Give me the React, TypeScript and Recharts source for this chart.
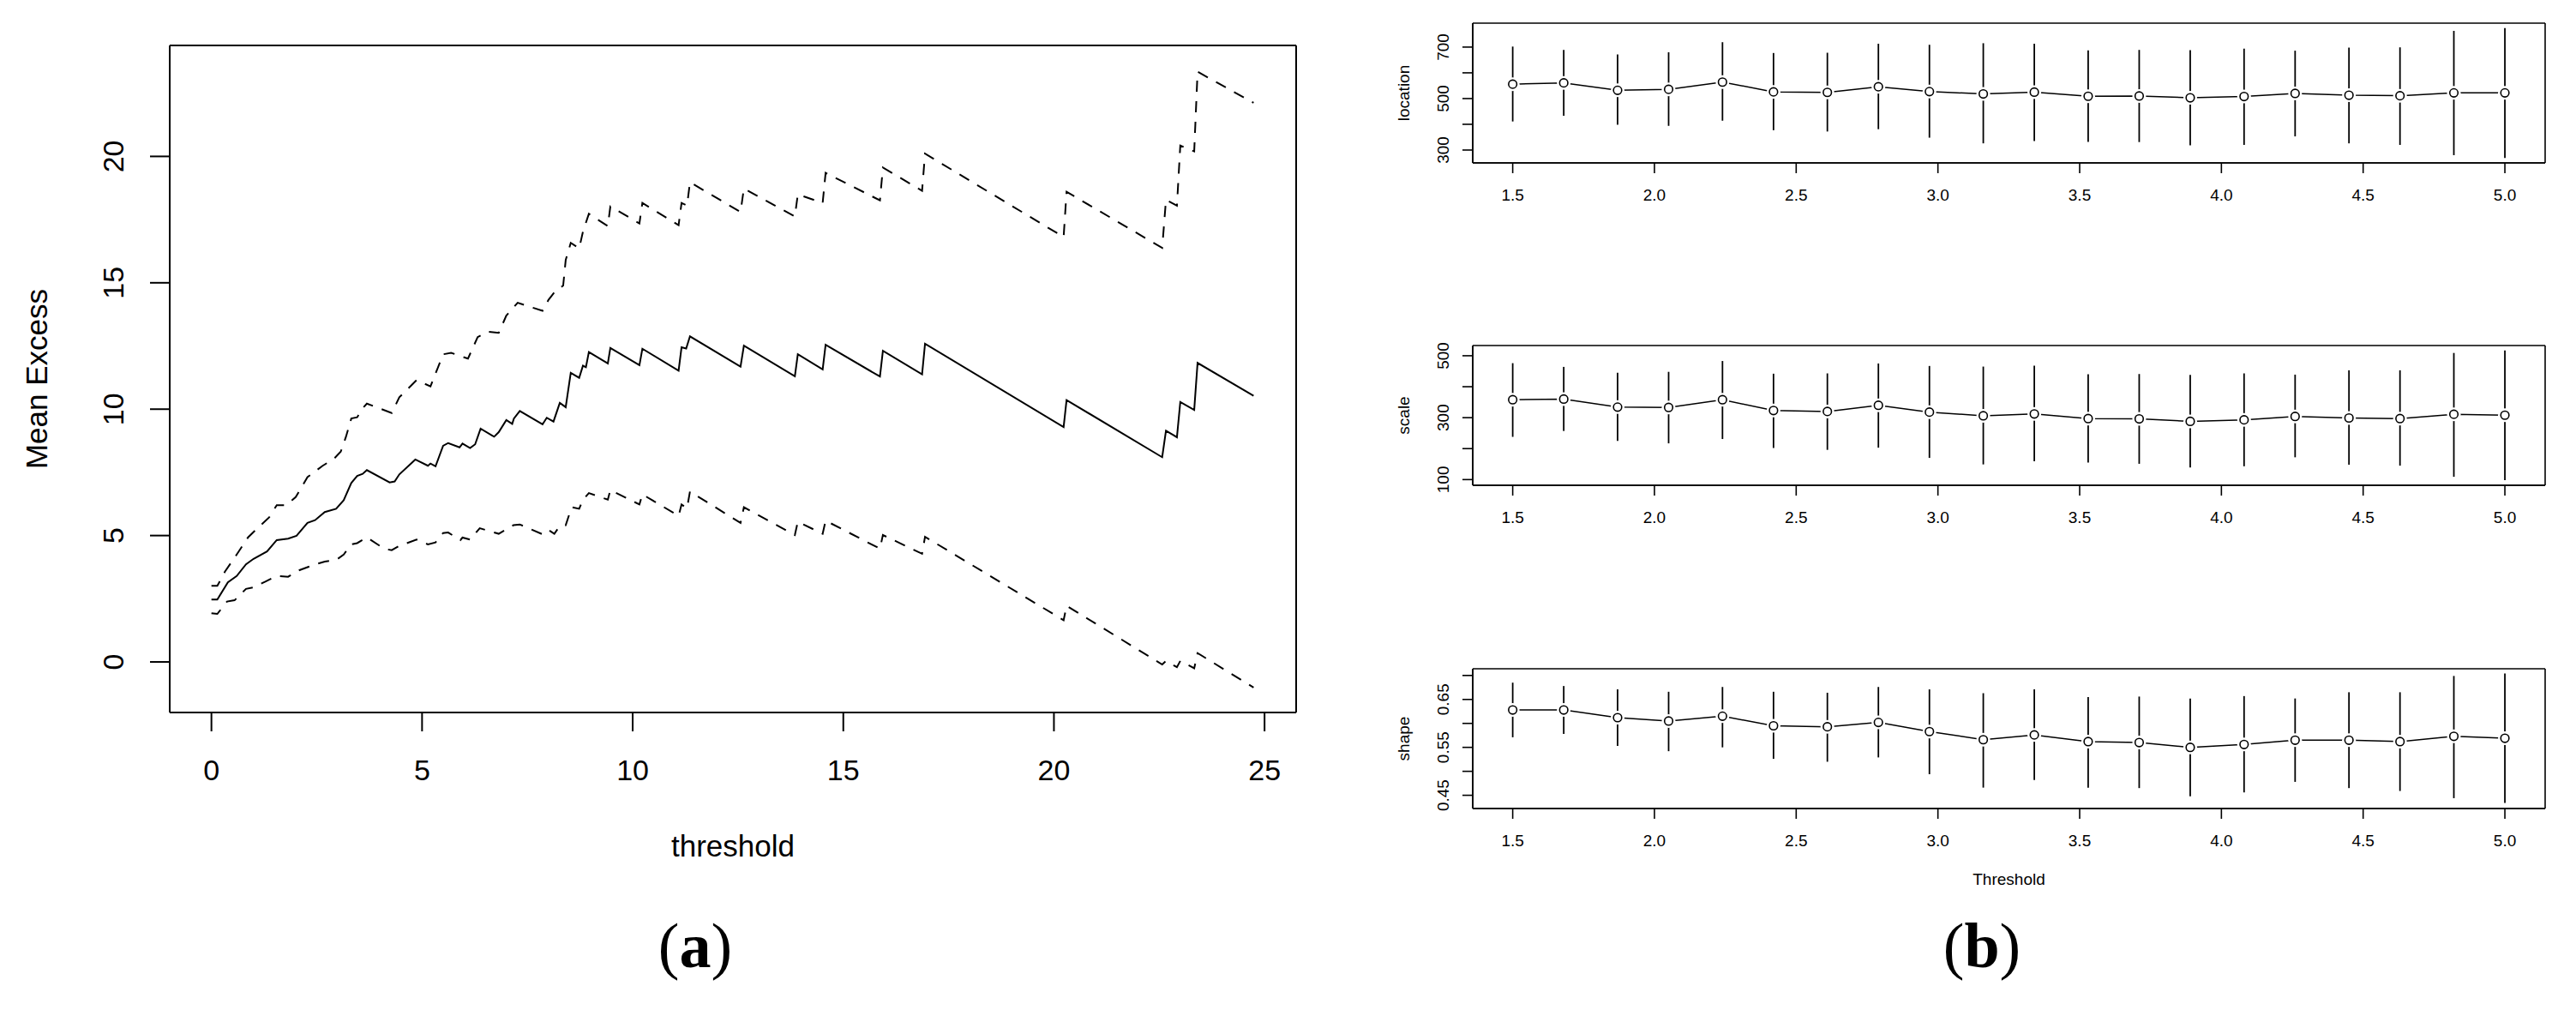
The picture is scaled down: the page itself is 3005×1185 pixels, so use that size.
import React from 'react';
import { LineChart, Line, XAxis, YAxis, ErrorBar, Label, CartesianGrid } from 'recharts';

const FONT = '"Liberation Sans", Arial, Helvetica, sans-serif';
const SERIF = '"Liberation Serif", "Times New Roman", serif';

// ---- (a) mean excess plot, vertices ----
const MEAN_X = [0.0, 0.14, 0.39, 0.6, 0.82, 1.0, 1.32, 1.55, 1.82, 2.02, 2.28, 2.46, 2.69, 2.96, 3.14, 3.32, 3.46, 3.59, 3.69, 4.23, 4.35, 4.46, 4.84, 5.14, 5.2, 5.32, 5.5, 5.62, 5.89, 5.96, 6.14, 6.26, 6.39, 6.71, 6.82, 7.0, 7.14, 7.18, 7.32, 7.86, 7.96, 8.12, 8.27, 8.41, 8.53, 8.73, 8.82, 8.89, 8.96, 9.41, 9.47, 10.16, 10.23, 11.09, 11.16, 11.27, 11.36, 12.56, 12.64, 13.85, 13.92, 14.51, 14.58, 15.87, 15.94, 16.87, 16.94, 20.23, 20.3, 22.57, 22.66, 22.92, 23.0, 23.33, 23.41, 24.74];
const MEAN_Y = [2.47, 2.47, 3.15, 3.4, 3.86, 4.08, 4.37, 4.82, 4.88, 4.99, 5.5, 5.61, 5.93, 6.06, 6.4, 7.08, 7.36, 7.44, 7.59, 7.1, 7.14, 7.42, 8.01, 7.76, 7.85, 7.74, 8.55, 8.66, 8.49, 8.64, 8.46, 8.61, 9.23, 8.91, 9.09, 9.57, 9.42, 9.63, 9.93, 9.4, 9.66, 9.51, 10.25, 10.08, 11.44, 11.24, 11.72, 11.66, 12.26, 11.81, 12.42, 11.74, 12.39, 11.52, 12.45, 12.4, 12.88, 11.68, 12.51, 11.3, 12.17, 11.57, 12.55, 11.29, 12.31, 11.38, 12.59, 9.29, 10.36, 8.1, 9.15, 8.89, 10.28, 9.97, 11.83, 10.53];

const UPPER_X = [0.0, 0.14, 0.32, 0.6, 0.87, 1.05, 1.37, 1.55, 1.78, 2.0, 2.28, 2.64, 2.91, 3.07, 3.19, 3.32, 3.46, 3.59, 3.69, 4.28, 4.46, 4.87, 5.2, 5.5, 5.69, 6.09, 6.32, 6.55, 6.82, 7.0, 7.27, 7.86, 8.0, 8.16, 8.35, 8.41, 8.53, 8.73, 8.82, 8.96, 9.41, 9.47, 10.16, 10.23, 11.09, 11.16, 11.29, 11.36, 12.56, 12.64, 13.85, 13.92, 14.51, 14.58, 15.87, 15.94, 16.87, 16.94, 20.23, 20.3, 22.57, 22.66, 22.92, 23.0, 23.33, 23.41, 24.74];
const UPPER_Y = [3.01, 3.01, 3.57, 4.25, 4.93, 5.22, 5.72, 6.2, 6.2, 6.52, 7.31, 7.76, 8.04, 8.32, 8.89, 9.63, 9.68, 10.04, 10.22, 9.85, 10.47, 11.15, 10.9, 12.17, 12.23, 12.0, 12.85, 13.07, 13.02, 13.7, 14.21, 13.89, 14.32, 14.66, 14.89, 15.9, 16.58, 16.36, 17.03, 17.73, 17.24, 18.02, 17.35, 18.16, 17.28, 18.16, 18.05, 18.98, 17.8, 18.73, 17.62, 18.5, 18.16, 19.35, 18.26, 19.56, 18.64, 20.11, 16.81, 18.6, 16.38, 18.28, 18.05, 20.43, 20.2, 23.35, 22.12];

const LOWER_X = [0.0, 0.14, 0.37, 0.55, 0.82, 1.0, 1.28, 1.55, 1.82, 2.09, 2.46, 2.69, 2.96, 3.14, 3.32, 3.46, 3.69, 4.1, 4.28, 4.46, 4.87, 5.14, 5.32, 5.5, 5.62, 5.91, 5.96, 6.14, 6.37, 6.82, 7.17, 7.32, 7.86, 8.0, 8.14, 8.27, 8.41, 8.55, 8.73, 8.82, 8.96, 9.41, 9.47, 10.16, 10.23, 11.09, 11.16, 11.29, 11.36, 12.56, 12.64, 13.85, 13.92, 14.51, 14.58, 15.87, 15.94, 16.87, 16.94, 20.23, 20.3, 22.57, 22.66, 22.92, 23.0, 23.33, 23.41, 24.74];
const LOWER_Y = [1.93, 1.9, 2.39, 2.44, 2.89, 2.95, 3.18, 3.4, 3.37, 3.63, 3.86, 3.97, 4.03, 4.25, 4.65, 4.7, 4.93, 4.48, 4.42, 4.59, 4.84, 4.65, 4.73, 5.1, 5.12, 4.82, 4.92, 4.84, 5.29, 5.07, 5.41, 5.44, 5.05, 5.22, 5.07, 5.38, 5.41, 6.12, 6.06, 6.42, 6.68, 6.42, 6.8, 6.23, 6.63, 5.78, 6.23, 6.08, 6.74, 5.5, 6.12, 5.02, 5.55, 5.07, 5.59, 4.48, 5.02, 4.28, 4.95, 1.65, 2.22, -0.1, 0.04, -0.21, 0.04, -0.25, 0.35, -1.01];

const A_X_TICKS = [0, 5, 10, 15, 20, 25];
const A_Y_TICKS = [0, 5, 10, 15, 20];

// ---- (b) parameter stability plot ----
const THRESHOLDS = [1.5, 1.68, 1.87, 2.05, 2.24, 2.42, 2.61, 2.79, 2.97, 3.16, 3.34, 3.53, 3.71, 3.89, 4.08, 4.26, 4.45, 4.63, 4.82, 5.0];

const LOCATION = [556, 561, 532, 536, 564, 526, 524, 546, 527, 518, 525, 509, 510, 503, 508, 520, 513, 511, 522, 522];
const LOCATION_LO = [411, 433, 398, 394, 414, 377, 372, 381, 348, 326, 335, 332, 331, 318, 320, 353, 326, 320, 280, 269];
const LOCATION_HI = [702, 689, 671, 680, 719, 677, 678, 713, 709, 715, 713, 687, 689, 688, 694, 686, 698, 699, 763, 774];

const SCALE = [358, 360, 334, 333, 358, 323, 320, 340, 318, 306, 312, 297, 296, 288, 293, 304, 299, 297, 311, 308];
const SCALE_LO = [238, 257, 225, 217, 231, 202, 196, 203, 170, 149, 159, 155, 151, 139, 143, 172, 148, 145, 109, 98];
const SCALE_HI = [476, 464, 445, 448, 483, 442, 443, 475, 467, 465, 468, 440, 441, 438, 443, 439, 453, 453, 509, 517];

const SHAPE = [0.628, 0.628, 0.612, 0.605, 0.615, 0.595, 0.593, 0.602, 0.583, 0.566, 0.576, 0.562, 0.56, 0.55, 0.556, 0.565, 0.565, 0.562, 0.573, 0.569];
const SHAPE_LO = [0.571, 0.578, 0.553, 0.542, 0.55, 0.526, 0.52, 0.529, 0.494, 0.466, 0.482, 0.466, 0.465, 0.448, 0.456, 0.478, 0.465, 0.459, 0.444, 0.434];
const SHAPE_HI = [0.685, 0.678, 0.671, 0.666, 0.676, 0.666, 0.664, 0.676, 0.671, 0.663, 0.671, 0.655, 0.656, 0.652, 0.657, 0.652, 0.665, 0.665, 0.699, 0.704];

const B_X_TICKS = [1.5, 2.0, 2.5, 3.0, 3.5, 4.0, 4.5, 5.0];
const LOC_TICKS = [300, 400, 500, 600, 700];
const LOC_LABELS = [300, 500, 700];
const SCALE_TICKS = [100, 200, 300, 400, 500];
const SCALE_LABELS = [100, 300, 500];
const SHAPE_TICKS = [0.45, 0.5, 0.55, 0.6, 0.65, 0.7];
const SHAPE_LABELS = [0.45, 0.55, 0.65];

const toPoints = (xs: number[], ys: number[]) => xs.map((x, i) => ({ x, y: ys[i] }));

// grid lines only on the plot edges -> the R style box
const edgesY = ({ offset }: any) => [offset.top, offset.top + offset.height];
const edgesX = ({ offset }: any) => [offset.left, offset.left + offset.width];

const XTick = ({ x, y, payload, size, gap, fmt }: any) => (
  <text x={x} y={y + gap} dy={size * 0.355} textAnchor="middle" fontSize={size} fontFamily={FONT} fill="#000">
    {fmt(payload.value)}
  </text>
);

// R puts y labels parallel to the axis
const YTick = ({ x, y, payload, size, gap, fmt, show }: any) => {
  if (show && !show.includes(payload.value)) return <g />;
  const cx = x - gap;
  return (
    <text x={cx} y={y} dy={size * 0.355} transform={`rotate(-90 ${cx} ${y})`} textAnchor="middle" fontSize={size} fontFamily={FONT} fill="#000">
      {fmt(payload.value)}
    </text>
  );
};

const YTitle = ({ viewBox, text, x, size }: any) => {
  const cy = viewBox.y + viewBox.height / 2;
  return (
    <text x={x} y={cy} dy={size * 0.355} transform={`rotate(-90 ${x} ${cy})`} textAnchor="middle" fontSize={size} fontFamily={FONT} fill="#000">
      {text}
    </text>
  );
};

function MeanExcessPanel() {
  const line = { stroke: '#000', strokeWidth: 2 };
  return (
    <div style={{ position: 'absolute', left: 0, top: 0 }}>
      <LineChart width={1560} height={1011} margin={{ top: 53, right: 48, bottom: 0, left: 0 }}>
        <CartesianGrid stroke="#000" strokeWidth={2} horizontalCoordinatesGenerator={edgesY} verticalCoordinatesGenerator={edgesX} />
        <XAxis
          dataKey="x"
          type="number"
          domain={[-0.99, 25.75]}
          ticks={A_X_TICKS}
          interval={0}
          allowDataOverflow
          height={180}
          tickSize={22}
          tickMargin={0}
          axisLine={line}
          tickLine={line}
          tick={(p: any) => <XTick {...p} size={34} gap={45} fmt={(v: number) => String(v)} />}
        >
          <Label value="threshold" position="insideTop" offset={143} fontSize={35} fontFamily={FONT} fill="#000" />
        </XAxis>
        <YAxis
          type="number"
          domain={[-2.0, 24.39]}
          ticks={A_Y_TICKS}
          interval={0}
          allowDataOverflow
          width={198}
          tickSize={23}
          tickMargin={0}
          axisLine={line}
          tickLine={line}
          tick={(p: any) => <YTick {...p} size={34} gap={43} fmt={(v: number) => String(v)} />}
        >
          <Label content={(p: any) => <YTitle {...p} text="Mean Excess" x={43} size={35} />} />
        </YAxis>
        <Line data={toPoints(UPPER_X, UPPER_Y)} dataKey="y" type="linear" stroke="#000" strokeWidth={2} strokeDasharray="13 11" dot={false} activeDot={false} isAnimationActive={false} />
        <Line data={toPoints(MEAN_X, MEAN_Y)} dataKey="y" type="linear" stroke="#000" strokeWidth={2} dot={false} activeDot={false} isAnimationActive={false} />
        <Line data={toPoints(LOWER_X, LOWER_Y)} dataKey="y" type="linear" stroke="#000" strokeWidth={2} strokeDasharray="13 11" dot={false} activeDot={false} isAnimationActive={false} />
      </LineChart>
    </div>
  );
}

interface ParamProps {
  top: number;
  xHeight: number;
  values: number[];
  lower: number[];
  upper: number[];
  domain: [number, number];
  ticks: number[];
  labels: number[];
  digits: number;
  title: string;
  xTitle?: string;
}

function ParamPanel({ top, xHeight, values, lower, upper, domain, ticks, labels, digits, title, xTitle }: ParamProps) {
  const data = THRESHOLDS.map((t, i) => ({ t, v: values[i], err: [values[i] - lower[i], upper[i] - values[i]] }));
  const line = { stroke: '#000', strokeWidth: 1.6 };
  return (
    <div style={{ position: 'absolute', left: 1580, top }}>
      <LineChart width={1425} height={27 + 163 + xHeight} data={data} margin={{ top: 27, right: 36, bottom: 0, left: 0 }}>
        <CartesianGrid stroke="#000" strokeWidth={1.6} horizontalCoordinatesGenerator={edgesY} verticalCoordinatesGenerator={edgesX} />
        <XAxis
          dataKey="t"
          type="number"
          domain={[1.359, 5.142]}
          ticks={B_X_TICKS}
          interval={0}
          allowDataOverflow
          height={xHeight}
          tickSize={12}
          tickMargin={0}
          axisLine={line}
          tickLine={line}
          tick={(p: any) => <XTick {...p} size={19} gap={25} fmt={(v: number) => v.toFixed(1)} />}
        >
          {xTitle ? <Label value={xTitle} position="insideTop" offset={76} fontSize={19} fontFamily={FONT} fill="#000" /> : null}
        </XAxis>
        <YAxis
          type="number"
          domain={domain}
          ticks={ticks}
          interval={0}
          allowDataOverflow
          width={138}
          tickSize={12}
          tickMargin={0}
          axisLine={line}
          tickLine={line}
          tick={(p: any) => <YTick {...p} size={19} gap={23} show={labels} fmt={(v: number) => v.toFixed(digits)} />}
        >
          <Label content={(p: any) => <YTitle {...p} text={title} x={57} size={19} />} />
        </YAxis>
        <Line
          dataKey="v"
          type="linear"
          stroke="#000"
          strokeWidth={1.5}
          dot={(p: any) => <circle key={`g-${p.index}`} cx={p.cx} cy={p.cy} r={8} fill="#fff" stroke="none" />}
          activeDot={false}
          isAnimationActive={false}
        />
        <Line
          dataKey="v"
          type="linear"
          stroke="none"
          dot={(p: any) => <circle key={`c-${p.index}`} cx={p.cx} cy={p.cy} r={4.8} fill="none" stroke="#000" strokeWidth={1.6} />}
          activeDot={false}
          isAnimationActive={false}
        >
          <ErrorBar dataKey="err" direction="y" width={0} stroke="#000" strokeWidth={1.8} isAnimationActive={false} />
        </Line>
      </LineChart>
    </div>
  );
}

function PanelTag({ left, letter }: { left: number; letter: string }) {
  return (
    <div style={{ position: 'absolute', left, top: 1066, width: 200, textAlign: 'center', fontFamily: SERIF, fontSize: 74, lineHeight: 1, color: '#000' }}>
      (<b>{letter}</b>)
    </div>
  );
}

export default function App() {
  return (
    <div style={{ position: 'absolute', left: 0, top: 0, width: 3005, height: 1185, background: '#fff', overflow: 'hidden' }}>
      <MeanExcessPanel />
      <ParamPanel top={0} xHeight={60} values={LOCATION} lower={LOCATION_LO} upper={LOCATION_HI} domain={[250, 793]} ticks={LOC_TICKS} labels={LOC_LABELS} digits={0} title="location" />
      <ParamPanel top={376} xHeight={60} values={SCALE} lower={SCALE_LO} upper={SCALE_HI} domain={[81.6, 533]} ticks={SCALE_TICKS} labels={SCALE_LABELS} digits={0} title="scale" />
      <ParamPanel top={753} xHeight={110} values={SHAPE} lower={SHAPE_LO} upper={SHAPE_HI} domain={[0.4224, 0.714]} ticks={SHAPE_TICKS} labels={SHAPE_LABELS} digits={2} title="shape" xTitle="Threshold" />
      <PanelTag left={711} letter="a" />
      <PanelTag left={2212} letter="b" />
    </div>
  );
}
